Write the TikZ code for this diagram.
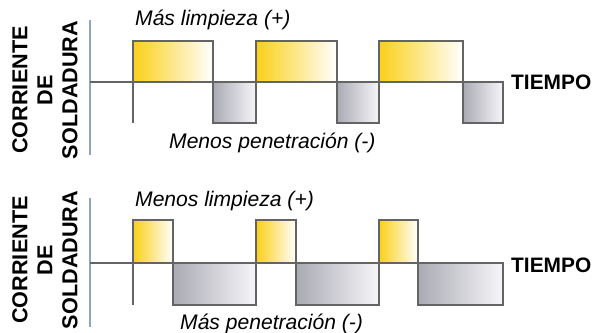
\documentclass[tikz,border=0pt]{standalone}
\usepackage{fontspec}
\setmainfont{Liberation Sans}
\definecolor{pulseyellow}{RGB}{250,208,25}
\definecolor{pulsegray}{RGB}{170,170,180}
\definecolor{lightgray}{RGB}{246,246,249}
\definecolor{wavegray}{RGB}{100,100,100}
\definecolor{axisblue}{RGB}{145,165,190}
\begin{document}
\begin{tikzpicture}[x=0.02cm,y=-0.02cm,
  wave/.style={draw=wavegray,line width=0.9pt},
  pospulse/.style={wave,left color=pulseyellow,right color=white},
  negpulse/.style={wave,left color=pulsegray,right color=lightgray},
  yaxis/.style={draw=axisblue,line width=1.2pt},
  vlabel/.style={rotate=90,align=center,font=\fontsize{12.3}{14.2}\selectfont\bfseries},
  tlabel/.style={anchor=west,font=\fontsize{11.9}{14}\selectfont\bfseries},
  note/.style={anchor=west,font=\fontsize{12}{14}\selectfont\itshape}]
\useasboundingbox (0,0) rectangle (593,333);

% upper plot: equal halves
\draw[yaxis] (90,20) -- (90,155);
\foreach \a/\b/\c in {133/213/256, 256/337/379, 379/463/503}{
  \draw[pospulse] (\a,41) rectangle (\b,82);
  \draw[negpulse] (\b,82) rectangle (\c,123);
}
\draw[wave] (133,82) -- (133,123);
\draw[wave] (90,82) -- (503,82);

\node[vlabel] (ylabelA) at (45,90) {CORRIENTE\\DE\\SOLDADURA};
\node[tlabel] (timeA) at (505,82) {TIEMPO};
\node[note] (posA) at (129,20) {Más limpieza (+)};
\node[note] (negA) at (163,143) {Menos penetración (-)};

% lower plot: short positive part
\draw[yaxis] (90,198) -- (90,327);
\foreach \a/\b/\c in {133/173/256, 256/296/379, 379/418/503}{
  \draw[pospulse] (\a,220) rectangle (\b,263);
  \draw[negpulse] (\b,263) rectangle (\c,305);
}
\draw[wave] (133,263) -- (133,305);
\draw[wave] (90,263) -- (503,263);

\node[vlabel] (ylabelB) at (45,260) {CORRIENTE\\DE\\SOLDADURA};
\node[tlabel] (timeB) at (505,265) {TIEMPO};
\node[note] (posB) at (129,201) {Menos limpieza (+)};
\node[note] (negB) at (174,324) {Más penetración (-)};
\end{tikzpicture}
\end{document}
